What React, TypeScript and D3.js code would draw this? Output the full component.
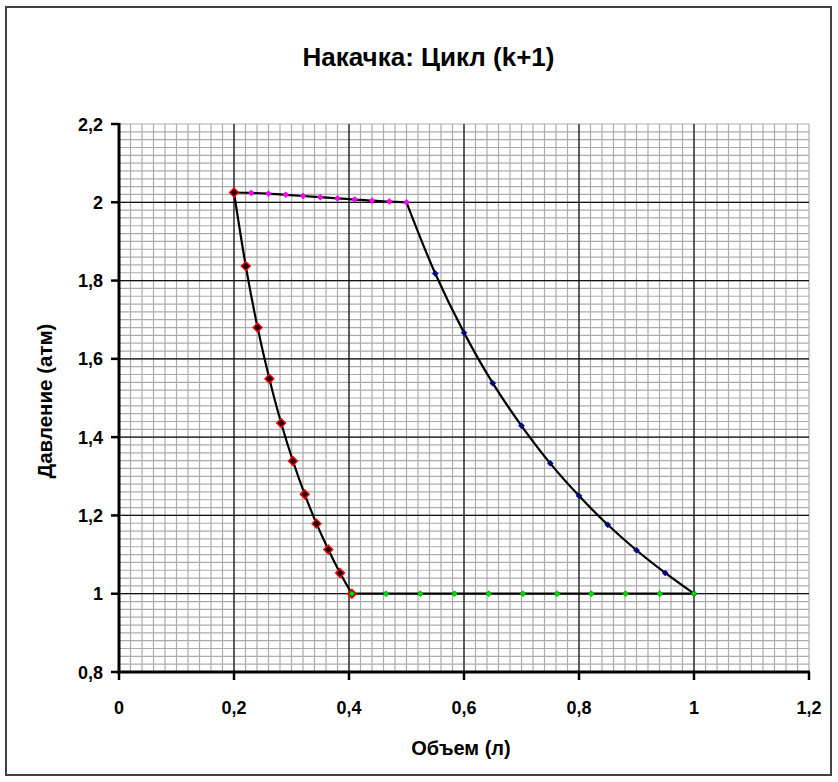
import React from "react";
import * as d3 from "d3";

const title = "Накачка: Цикл (k+1)";
const xTitle = "Объем (л)";
const yTitle = "Давление (атм)";

const xTicks = [0, 0.2, 0.4, 0.6, 0.8, 1.0, 1.2];
const yTicks = [0.8, 1.0, 1.2, 1.4, 1.6, 1.8, 2.0, 2.2];

// compression isotherm (red)
const redV = [0.405, 0.3845, 0.364, 0.3435, 0.323, 0.3025, 0.282, 0.2615, 0.241, 0.2205, 0.2];
const redP = [1.0, 1.053, 1.113, 1.179, 1.254, 1.339, 1.436, 1.549, 1.68, 1.837, 2.025];
// top (magenta)
const magV = [0.2, 0.23, 0.26, 0.29, 0.32, 0.35, 0.38, 0.41, 0.44, 0.47, 0.5];
const magP = [2.025, 2.024, 2.022, 2.019, 2.016, 2.013, 2.01, 2.007, 2.004, 2.002, 2.0];
// expansion isotherm (blue)
const blueV = [0.5, 0.55, 0.6, 0.65, 0.7, 0.75, 0.8, 0.85, 0.9, 0.95, 1.0];
const blueP = [2.0, 1.818, 1.667, 1.538, 1.429, 1.333, 1.25, 1.176, 1.111, 1.053, 1.0];
// bottom (green)
const greenV = [1.0, 0.9405, 0.881, 0.8215, 0.762, 0.7025, 0.643, 0.5835, 0.524, 0.4645, 0.405];
const greenP = [1.0, 1.0, 1.0, 1.0, 1.0, 1.0, 1.0, 1.0, 1.0, 1.0, 1.0];

const W = 838;
const H = 782;
const L = 119, R = 809, T = 124, B = 672;

const fmt = (v: number) => {
  const s = d3.format("~g")(+v.toFixed(2));
  return s.replace(".", ",");
};

export default function App() {
  const x = d3.scaleLinear().domain([0, 1.2]).range([L, R]);
  const y = d3.scaleLinear().domain([0.8, 2.2]).range([B, T]);

  const xMinor = d3.range(0, 61).map((i) => i * 0.02);
  const yMinor = d3.range(0, 71).map((i) => 0.8 + i * 0.02);

  const zip = (vs: number[], ps: number[]) => vs.map((v, i) => [v, ps[i]] as [number, number]);
  const line = d3
    .line<[number, number]>()
    .x((d) => x(d[0]))
    .y((d) => y(d[1]))
    .curve(d3.curveCatmullRom.alpha(0.5));
  const lineLin = d3
    .line<[number, number]>()
    .x((d) => x(d[0]))
    .y((d) => y(d[1]));

  const red = zip(redV, redP);
  const mag = zip(magV, magP);
  const blue = zip(blueV, blueP);
  const green = zip(greenV, greenP);

  const diamond = (cx: number, cy: number, r: number) =>
    `M${cx},${cy - r}L${cx + r},${cy}L${cx},${cy + r}L${cx - r},${cy}Z`;

  const font = "'Liberation Sans', Arial, sans-serif";

  return (
    <svg
      width={W}
      height={H}
      style={{ position: "absolute", left: 0, top: 0, background: "#fff" }}
      fontFamily={font}
    >
      <rect x={0} y={0} width={W} height={H} fill="#fff" />
      <rect x={6} y={7} width={825} height={768} fill="#fff" stroke="#404040" strokeWidth={2} />

      {/* minor grid */}
      {xMinor.map((v, i) => (
        <line key={"xm" + i} x1={x(v)} x2={x(v)} y1={T} y2={B} stroke="#ababab" strokeWidth={1.2} />
      ))}
      {yMinor.map((v, i) => (
        <line key={"ym" + i} x1={L} x2={R} y1={y(v)} y2={y(v)} stroke="#ababab" strokeWidth={1.2} />
      ))}
      {/* major grid */}
      {xTicks.slice(1, -1).map((v, i) => (
        <line key={"xM" + i} x1={x(v)} x2={x(v)} y1={T} y2={B} stroke="#111" strokeWidth={1.2} />
      ))}
      {yTicks.slice(1, -1).map((v, i) => (
        <line key={"yM" + i} x1={L} x2={R} y1={y(v)} y2={y(v)} stroke="#111" strokeWidth={1.2} />
      ))}

      {/* axes */}
      <line x1={L} x2={L} y1={T - 1} y2={B + 1.5} stroke="#000" strokeWidth={3} />
      <line x1={L - 1.5} x2={R + 1} y1={B} y2={B} stroke="#000" strokeWidth={3} />
      {yTicks.map((v, i) => (
        <line key={"yt" + i} x1={L - 8} x2={L} y1={y(v)} y2={y(v)} stroke="#000" strokeWidth={2.5} />
      ))}
      {xTicks.map((v, i) => (
        <line key={"xt" + i} x1={x(v)} x2={x(v)} y1={B} y2={B + 8} stroke="#000" strokeWidth={2.5} />
      ))}
      {yTicks.map((v, i) => (
        <text key={"yl" + i} x={103} y={y(v) + 6.5} textAnchor="end" fontSize={18} fontWeight="bold">
          {fmt(v)}
        </text>
      ))}
      {xTicks.map((v, i) => (
        <text key={"xl" + i} x={x(v)} y={714} textAnchor="middle" fontSize={18} fontWeight="bold">
          {fmt(v)}
        </text>
      ))}

      {/* series lines */}
      <path d={line(red) || ""} fill="none" stroke="#000" strokeWidth={2.2} />
      <path d={line(mag) || ""} fill="none" stroke="#000" strokeWidth={2.2} />
      <path d={line(blue) || ""} fill="none" stroke="#000" strokeWidth={2.2} />
      <path d={lineLin(green) || ""} fill="none" stroke="#000" strokeWidth={2.2} />

      {/* markers */}
      {red.map((d, i) => (
        <path key={"rm" + i} d={diamond(x(d[0]), y(d[1]), 4.5)} fill="#200000" stroke="#ff0000" strokeWidth={1.3} />
      ))}
      {mag.slice(1).map((d, i) => (
        <path key={"mm" + i} d={diamond(x(d[0]), y(d[1]), 3)} fill="#ff00ff" stroke="#c000c0" strokeWidth={0.6} />
      ))}
      {blue.slice(1).map((d, i) => (
        <path key={"bm" + i} d={diamond(x(d[0]), y(d[1]), 3)} fill="#000080" stroke="#000080" strokeWidth={0.6} />
      ))}
      {green.map((d, i) => (
        <path key={"gm" + i} d={diamond(x(d[0]), y(d[1]), 3)} fill="#00e000" stroke="#008000" strokeWidth={0.6} />
      ))}

      {/* titles */}
      <text x={428.5} y={66} textAnchor="middle" fontSize={26} fontWeight="bold">
        {title}
      </text>
      <text x={461} y={755} textAnchor="middle" fontSize={20} fontWeight="bold">
        {xTitle}
      </text>
      <text
        transform={`translate(52,401) rotate(-90)`}
        textAnchor="middle"
        fontSize={20.5}
        fontWeight="bold"
      >
        {yTitle}
      </text>
    </svg>
  );
}
